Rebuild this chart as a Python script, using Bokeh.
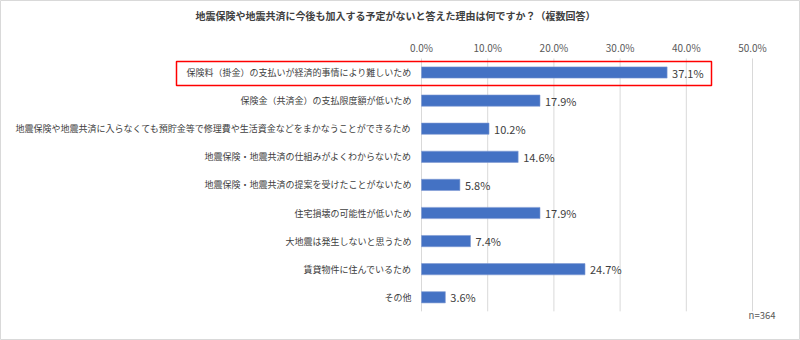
from bokeh.plotting import figure
from bokeh.models import ColumnDataSource, Range1d
from bokeh.embed import file_html
from bokeh.resources import INLINE
from bokeh.core.properties import value

categories = [
    "保険料（掛金）の支払いが経済的事情により難しいため",
    "保険金（共済金）の支払限度額が低いため",
    "地震保険や地震共済に入らなくても預貯金等で修理費や生活資金などをまかなうことができるため",
    "地震保険・地震共済の仕組みがよくわからないため",
    "地震保険・地震共済の提案を受けたことがないため",
    "住宅損壊の可能性が低いため",
    "大地震は発生しないと思うため",
    "賃貸物件に住んでいるため",
    "その他",
]
values = [37.1, 17.9, 10.2, 14.6, 5.8, 17.9, 7.4, 24.7, 3.6]
x_ticks = [0, 10, 20, 30, 40, 50]
tick_labels = ["0.0%", "10.0%", "20.0%", "30.0%", "40.0%", "50.0%"]
title_text = "地震保険や地震共済に今後も加入する予定がないと答えた理由は何ですか？（複数回答）"
note_text = "n=364"
highlight_index = 0

JP = "Noto Sans CJK JP"

# ---- layout (pixels on the 800x340 canvas) ----
W, H = 800, 340
X0_PX, XMAX_PX = 421, 752          # where 0% and 50% sit
ROW0_PX, ROW_STEP = 72, 28.1       # centre of first row, row pitch
XMAX = x_ticks[-1]
sx = (XMAX_PX - X0_PX) / XMAX


def px_x(px):
    return (px - X0_PX) / sx


def px_y(py):
    return (py - ROW0_PX) / ROW_STEP


n = len(categories)
rows = list(range(n))

p = figure(
    width=W, height=H,
    x_range=Range1d(px_x(0), px_x(W)),
    y_range=Range1d(px_y(H), px_y(0)),
    x_axis_type=None, y_axis_type=None,
    output_backend="svg", toolbar_location=None,
    min_border=0,
)
p.outline_line_color = "#D9D9D9"
p.outline_line_width = 1
p.background_fill_color = "white"
p.border_fill_color = "white"

# vertical grid lines
grid = ColumnDataSource(dict(x=x_ticks, lab=tick_labels))
p.segment(x0="x", x1="x", y0=-0.5, y1=n - 0.5, source=grid,
          line_color="#D9D9D9", line_width=1)
# tick labels on top
p.text(x="x", y=-0.5, text="lab", source=grid, y_offset=-11,
       text_align="center", text_baseline="middle",
       text_font=value(JP), text_font_size="10px", text_color="#595959")

src = ColumnDataSource(dict(
    row=rows,
    cat=categories,
    val=values,
    lab=[f"{v:.1f}%" for v in values],
))

p.hbar(y="row", right="val", left=0, height=0.4, source=src,
       fill_color="#4472C4", line_color="#7F9BD3", line_width=0.6)
p.text(x="val", y="row", text="lab", source=src, x_offset=5,
       text_baseline="middle", text_align="left",
       text_font=value(JP), text_font_size="11px", text_color="#404040")
# category labels
p.text(x=0, y="row", text="cat", source=src, x_offset=-10,
       text_baseline="middle", text_align="right",
       text_font=value(JP), text_font_size="9px", text_color="#404040")

# title
p.text(x=[px_x(395)], y=[px_y(15)], text=[title_text],
       text_align="center", text_baseline="middle",
       text_font=value(JP), text_font_size="10px", text_font_style="bold",
       text_color="#404040")
# sample size note
p.text(x=[px_x(775)], y=[px_y(314)], text=[note_text],
       text_align="right", text_baseline="middle",
       text_font=value(JP), text_font_size="9.5px", text_color="#595959")

# highlight box around the first row
p.quad(left=[px_x(176)], right=[px_x(711)],
       top=[highlight_index - 11 / ROW_STEP], bottom=[highlight_index + 13 / ROW_STEP],
       fill_color=None, line_color="#FF0000", line_width=1.5)

open("out.html", "w").write(file_html(p, INLINE))
